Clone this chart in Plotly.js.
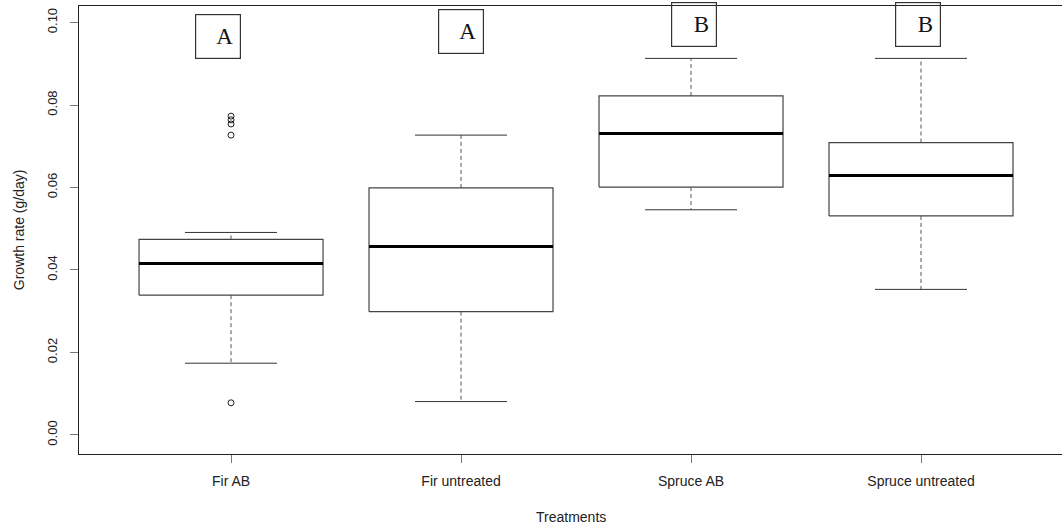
<!DOCTYPE html>
<html>
<head>
<meta charset="utf-8">
<script src="https://cdn.plot.ly/plotly-3.0.1.min.js"></script>
<style>html,body{margin:0;padding:0;background:#fff;}#chart{width:1062px;height:526px;}</style>
</head>
<body>
<div id="chart"></div>
<script>
// Data (growth rate, g/day)
const categories = ["Fir AB", "Fir untreated", "Spruce AB", "Spruce untreated"];
const lowerWhisker = [0.0174, 0.0081, 0.0546, 0.0353];
const q1 = [0.0339, 0.0299, 0.0601, 0.0531];
const median = [0.0416, 0.0457, 0.0731, 0.0629];
const q3 = [0.0474, 0.0599, 0.0822, 0.0709];
const upperWhisker = [0.0491, 0.0727, 0.0913, 0.0913];
const outlierGroup = [1, 1, 1, 1, 1];
const outlierValues = [0.0078, 0.0727, 0.0754, 0.0764, 0.0773];
const groupLetters = ["A", "A", "B", "B"];
const letterHeights = [0.0967, 0.0979, 0.0994, 0.0994];
const letterOffsets = [-0.057, 0.0, 0.013, -0.013];

const HALF = 0.4, CAP = 0.2;
const boxX = [], boxY = [], medX = [], medY = [], whX = [], whY = [], capX = [], capY = [];
categories.forEach((c, i) => {
  const x = i + 1;
  boxX.push(x - HALF, x + HALF, x + HALF, x - HALF, x - HALF, null);
  boxY.push(q1[i], q1[i], q3[i], q3[i], q1[i], null);
  medX.push(x - HALF, x + HALF, null);
  medY.push(median[i], median[i], null);
  whX.push(x, x, null, x, x, null);
  whY.push(q3[i], upperWhisker[i], null, q1[i], lowerWhisker[i], null);
  capX.push(x - CAP, x + CAP, null, x - CAP, x + CAP, null);
  capY.push(upperWhisker[i], upperWhisker[i], null, lowerWhisker[i], lowerWhisker[i], null);
});

const traces = [
  {type: "scatter", mode: "lines", x: whX, y: whY, line: {color: "#555", width: 1, dash: "4px,3px"}, hoverinfo: "skip"},
  {type: "scatter", mode: "lines", x: capX, y: capY, line: {color: "#333", width: 1}, hoverinfo: "skip"},
  {type: "scatter", mode: "lines", x: boxX, y: boxY, line: {color: "#444", width: 1.2}, hoverinfo: "skip"},
  {type: "scatter", mode: "lines", x: medX, y: medY, line: {color: "#000", width: 3}, hoverinfo: "skip"},
  {type: "scatter", mode: "markers", x: outlierGroup, y: outlierValues,
   marker: {symbol: "circle-open", size: 6, color: "#222", line: {width: 1}}, hoverinfo: "skip"}
];

const annotations = groupLetters.map((L, i) => ({
  x: i + 1 + letterOffsets[i], y: letterHeights[i], xref: "x", yref: "y",
  text: L, showarrow: false, width: 30, height: 29, align: "right", valign: "middle",
  bordercolor: "#333", borderwidth: 1.2, borderpad: 7,
  font: {family: "Liberation Serif, Times New Roman, serif", size: 23, color: "#111"}
}));
annotations.push({
  xref: "paper", yref: "paper", x: -0.071, y: 0.5, textangle: -90, showarrow: false,
  text: "Growth rate (g/day)", font: {family: "Liberation Sans, Arial, sans-serif", size: 14, color: "#222"}
});
annotations.push({
  xref: "paper", yref: "paper", x: 0.5, y: -0.14, yanchor: "middle", showarrow: false,
  text: "Treatments", font: {family: "Liberation Sans, Arial, sans-serif", size: 14, color: "#222"}
});

const layout = {
  width: 1062, height: 526,
  margin: {l: 79, r: 0, t: 6, b: 72},
  paper_bgcolor: "#fff", plot_bgcolor: "#fff",
  showlegend: false,
  font: {family: "Liberation Sans, Arial, sans-serif", color: "#222"},
  xaxis: {
    range: [0.339, 4.613], tickvals: [1, 2, 3, 4], ticktext: categories,
    showgrid: false, zeroline: false, showline: true, mirror: true, linecolor: "#222", linewidth: 1.3,
    ticks: "outside", ticklen: 8, tickcolor: "#777", ticklabelstandoff: 6,
    tickfont: {size: 14, color: "#222"}
  },
  yaxis: {
    range: [-0.00461, 0.1040], tickvals: [0, 0.02, 0.04, 0.06, 0.08, 0.10],
    ticktext: ["0.00", "0.02", "0.04", "0.06", "0.08", "0.10"], tickangle: -90,
    showgrid: false, zeroline: false, showline: true, linecolor: "#222", linewidth: 1.3,
    ticks: "outside", ticklen: 8, tickcolor: "#777", ticklabelstandoff: 8,
    tickfont: {size: 13, color: "#222"}
  },
  annotations: annotations
};

Plotly.newPlot("chart", traces, layout, {staticPlot: true});
</script>
</body>
</html>
